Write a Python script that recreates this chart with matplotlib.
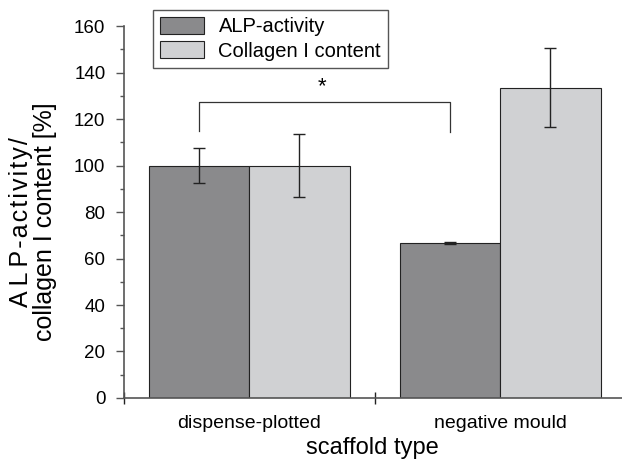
import matplotlib
matplotlib.use("Agg")
import matplotlib.pyplot as plt
import numpy as np
from matplotlib.ticker import MultipleLocator

plt.rcParams["font.family"] = ["Liberation Sans", "DejaVu Sans"]

categories = ["dispense-plotted", "negative mould"]
alp = [100.0, 66.7]
alp_err = [7.5, 0.3]
collagen = [100.0, 133.5]
collagen_err = [13.5, 17.0]
series_names = ["ALP-activity", "Collagen I content"]

dark = "#8a8a8c"
light = "#d0d1d3"
axis_col = "#555555"

fig = plt.figure(figsize=(6.22, 4.59), dpi=100)
ax = fig.add_axes([0.1986, 0.133, 0.8014, 0.81])

x = np.arange(len(categories))
w = 0.4
err_kw = dict(ecolor="#222222", elinewidth=1.0, capsize=4, capthick=1.0)
ax.bar(x - w / 2, alp, w, yerr=alp_err, color=dark, edgecolor="#222222",
       linewidth=0.8, label=series_names[0], error_kw=err_kw, zorder=2)
ax.bar(x + w / 2, collagen, w, yerr=collagen_err, color=light, edgecolor="#222222",
       linewidth=0.8, label=series_names[1], error_kw=err_kw, zorder=2)

# significance bracket between the two ALP bars
bx0, bx1 = x[0] - w / 2, x[1] - w / 2
ax.plot([bx0, bx0, bx1, bx1], [115, 127.2, 127.2, 114.4], color="#333333", lw=0.9)
ax.text(0.29, 129.5, "*", ha="center", va="bottom", fontsize=16)

ax.set_xlim(-0.5, 1.485)
ax.set_ylim(0, 160)
ax.yaxis.set_major_locator(MultipleLocator(20))
ax.yaxis.set_minor_locator(MultipleLocator(10))
ax.tick_params(axis="y", which="major", direction="out", length=6, width=1,
               color=axis_col, labelsize=13.5, pad=7)
ax.tick_params(axis="y", which="minor", direction="out", length=3, width=1, color=axis_col)

# separators on the x axis, category names without ticks
ax.set_xticks([-0.5, 0.5])
ax.set_xticklabels(["", ""])
ax.tick_params(axis="x", which="major", direction="inout", length=8, width=1, color="#222222")
for xi, name in zip(x, categories):
    ax.text(xi, -7.2, name, ha="center", va="top", fontsize=14,
            transform=ax.transData)

for side in ["top", "right"]:
    ax.spines[side].set_visible(False)
for side in ["left", "bottom"]:
    ax.spines[side].set_color(axis_col)
    ax.spines[side].set_linewidth(1.2)

ax.set_xlabel("scaffold type", fontsize=17)
ax.xaxis.set_label_coords(0.5, -0.105)
ax.xaxis.label.set_va("top")
line1 = "A\u2009L\u2009P\u200a-\u200aa\u200ac\u200at\u200ai\u200av\u200ai\u200at\u200ay\u200a/"
ax.set_ylabel(line1 + "\ncollagen I content [%]", fontsize=18, linespacing=1.0)
ax.yaxis.set_label_coords(-0.133, 0.474)

leg = ax.legend(loc="upper left", bbox_to_anchor=(0.246, 0.978),
                bbox_transform=fig.transFigure, fontsize=14.5, fancybox=False,
                edgecolor="#555555", framealpha=1, borderpad=0.35,
                handlelength=2.2, handleheight=0.9, handletextpad=0.7,
                labelspacing=0.25, borderaxespad=0)
leg.get_frame().set_linewidth(1.0)

fig.savefig("out.png", dpi=100)
